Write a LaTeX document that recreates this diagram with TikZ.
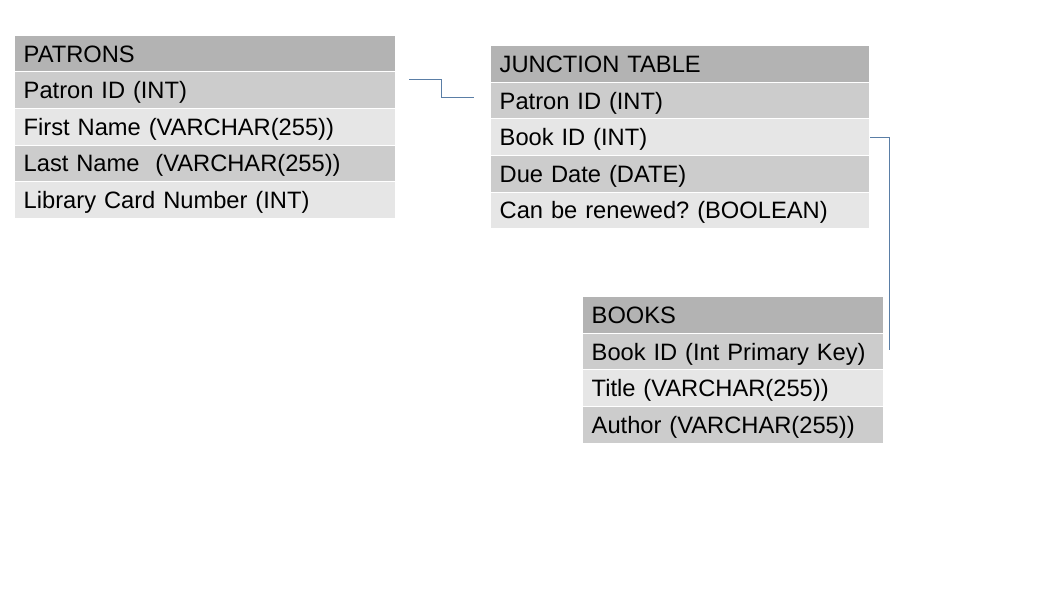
\documentclass[tikz,border=0pt]{standalone}
\usepackage{fontspec}
\setmainfont{Liberation Sans}
\usetikzlibrary{calc}
\frenchspacing
\definecolor{hdrgray}{HTML}{B3B3B3}
\definecolor{midgray}{HTML}{CCCCCC}
\definecolor{ltgray}{HTML}{E6E6E6}
\definecolor{linkblue}{HTML}{5A7EA6}
\begin{document}
\begin{tikzpicture}[x=1pt,y=-1pt,
  cell/.style={rectangle, anchor=north west, inner xsep=8.5pt, inner ysep=0pt,
    minimum height=35.6pt, text height=17pt, text depth=0pt,
    font=\fontsize{23.7}{26}\selectfont, text=black, align=left},
  hdr/.style={cell, fill=hdrgray},
  mid/.style={cell, fill=midgray},
  lt/.style={cell, fill=ltgray},
  link/.style={draw=linkblue, line width=1.1pt}]
\useasboundingbox[fill=white] (0,0) rectangle (1058,595);
% PATRONS
\begin{scope}[every node/.append style={text width=363pt}]
\node[hdr] (p0) at (15,35.5)  {PATRONS};
\node[mid] (p1) at (15,72.1)  {Patron ID (INT)};
\node[lt]  (p2) at (15,108.7) {First Name (VARCHAR(255))};
\node[mid] (p3) at (15,145.3) {Last Name\ \ (VARCHAR(255))};
\node[lt]  (p4) at (15,181.9) {Library Card Number (INT)};
\end{scope}
% JUNCTION TABLE
\begin{scope}[every node/.append style={text width=361pt}]
\node[hdr] (j0) at (491,46)    {JUNCTION TABLE};
\node[mid] (j1) at (491,82.6)  {Patron ID (INT)};
\node[lt]  (j2) at (491,119.2) {Book ID (INT)};
\node[mid] (j3) at (491,155.8) {Due Date (DATE)};
\node[lt]  (j4) at (491,192.4) {Can be renewed? (BOOLEAN)};
\end{scope}
% BOOKS
\begin{scope}[every node/.append style={text width=283pt}]
\node[hdr] (b0) at (583,297)   {BOOKS};
\node[mid] (b1) at (583,333.6) {Book ID (Int Primary Key)};
\node[lt]  (b2) at (583,370.2) {Title (VARCHAR(255))};
\node[mid] (b3) at (583,406.8) {Author (VARCHAR(255))};
\end{scope}
% connectors
\coordinate (c1s) at ($(p1.east)+(14,-10.2)$);
\coordinate (c1e) at ($(j1.west)+(-17,-2.7)$);
\draw[link] (c1s) -| ($(c1s)!0.5!(c1e)$) |- (c1e);
\coordinate (c2s) at ($(j2.east)+(1,0)$);
\coordinate (c2e) at ($(b1.east)+(6,-1.4)$);
\draw[link] (c2s) -| (c2e);
\end{tikzpicture}
\end{document}
